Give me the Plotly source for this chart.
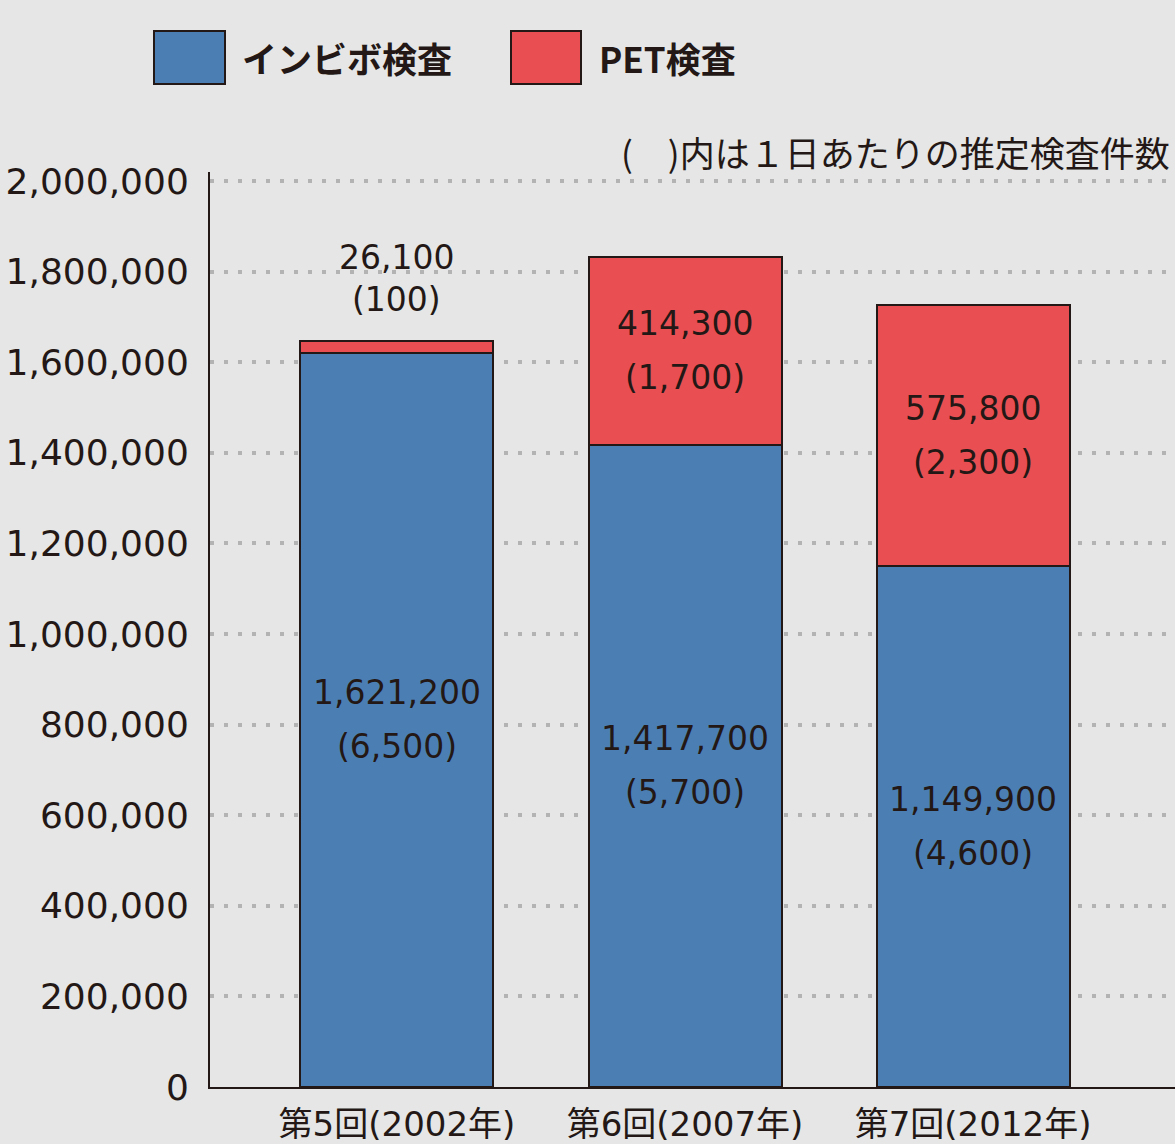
import plotly.graph_objects as go

# ---- data ----
categories = ["第5回(2002年)", "第6回(2007年)", "第7回(2012年)"]
invivo = [1621200, 1417700, 1149900]
invivo_daily = [6500, 5700, 4600]
pet = [26100, 414300, 575800]
pet_daily = [100, 1700, 2300]
y_ticks = [0, 200000, 400000, 600000, 800000, 1000000, 1200000, 1400000, 1600000, 1800000, 2000000]
series_names = ["インビボ検査", "PET検査"]
note_text = "(　)内は１日あたりの推定検査件数"

BLUE = "#4b7fb4"
RED = "#e94f52"
INK = "#231815"
BG = "#e6e6e6"
NUM_FONT = "DejaVu Sans, Noto Sans CJK JP"
JP_FONT = "Noto Sans CJK JP, DejaVu Sans"

# plot area in pixels
L, R, T, B = 210, 1175, 172, 1087
W, H = R - L, B - T
def xp(px):
    return (px - L) / W
def yp(py):
    return (B - py) / H

xs = list(range(len(categories)))

fig = go.Figure()
fig.add_trace(go.Bar(x=xs, y=invivo, name=series_names[0], marker=dict(color=BLUE, line=dict(color=INK, width=2)), width=0.67))
fig.add_trace(go.Bar(x=xs, y=pet, name=series_names[1], marker=dict(color=RED, line=dict(color=INK, width=2)), width=0.67))

annotations = []
def fmt(v):
    return f"{v:,}"

LBL = dict(family=NUM_FONT, size=33, color=INK)
for i in xs:
    mid = invivo[i] / 2
    annotations.append(dict(x=i, y=mid, xref="x", yref="y", text=fmt(invivo[i]), showarrow=False,
                            yshift=27, font=LBL))
    annotations.append(dict(x=i, y=mid, xref="x", yref="y", text=f"({fmt(invivo_daily[i])})", showarrow=False,
                            yshift=-27, font=LBL))
    top = invivo[i] + pet[i]
    if pet[i] < 100000:
        annotations.append(dict(x=i, y=top, xref="x", yref="y", text=fmt(pet[i]), showarrow=False,
                                yshift=83, font=LBL))
        annotations.append(dict(x=i, y=top, xref="x", yref="y", text=f"({fmt(pet_daily[i])})", showarrow=False,
                                yshift=41, font=LBL))
    else:
        pm = invivo[i] + pet[i] / 2
        annotations.append(dict(x=i, y=pm, xref="x", yref="y", text=fmt(pet[i]), showarrow=False,
                                yshift=27, font=LBL))
        annotations.append(dict(x=i, y=pm, xref="x", yref="y", text=f"({fmt(pet_daily[i])})", showarrow=False,
                                yshift=-27, font=LBL))

# legend texts
annotations.append(dict(x=xp(240), y=yp(57), xref="paper", yref="paper", text="<b>" + series_names[0] + "</b>",
                        showarrow=False, xanchor="left", yanchor="middle",
                        font=dict(family=JP_FONT, size=35, color=INK)))
annotations.append(dict(x=xp(597), y=yp(57), xref="paper", yref="paper", text="<b>" + series_names[1] + "</b>",
                        showarrow=False, xanchor="left", yanchor="middle",
                        font=dict(family=JP_FONT, size=35, color=INK)))
# note
annotations.append(dict(x=xp(1172), y=yp(152), xref="paper", yref="paper", text=note_text,
                        showarrow=False, xanchor="right", yanchor="middle",
                        font=dict(family=JP_FONT, size=35, color=INK)))

shapes = [
    dict(type="rect", xref="paper", yref="paper", x0=xp(154), x1=xp(225), y0=yp(84), y1=yp(31),
         fillcolor=BLUE, line=dict(color=INK, width=2)),
    dict(type="rect", xref="paper", yref="paper", x0=xp(511), x1=xp(581), y0=yp(84), y1=yp(31),
         fillcolor=RED, line=dict(color=INK, width=2)),
]

fig.update_layout(
    barmode="stack",
    width=1175, height=1144,
    margin=dict(l=L, r=1175 - R, t=T, b=1144 - B, autoexpand=False),
    paper_bgcolor=BG, plot_bgcolor=BG,
    showlegend=False,
    annotations=annotations,
    shapes=shapes,
    xaxis=dict(
        range=[-0.649, 2.701], tickmode="array", tickvals=xs, ticktext=categories,
        showline=True, linecolor=INK, linewidth=2, showgrid=False, zeroline=False,
        ticks="", ticklabelstandoff=6,
        tickfont=dict(family=NUM_FONT, size=34, color=INK),
    ),
    yaxis=dict(
        range=[0, 2020000], tickmode="array", tickvals=y_ticks,
        ticktext=[fmt(v) for v in y_ticks],
        showline=True, linecolor=INK, linewidth=2,
        showgrid=True, gridcolor="#b3b3b3", gridwidth=4, griddash="4px,10px",
        zeroline=False, ticks="", ticklabelstandoff=12,
        tickfont=dict(family=NUM_FONT, size=36, color=INK),
    ),
)

fig.write_html("out.html", config={"displayModeBar": False},
               post_script="document.body.style.margin='0';document.body.style.background='#e6e6e6';")
